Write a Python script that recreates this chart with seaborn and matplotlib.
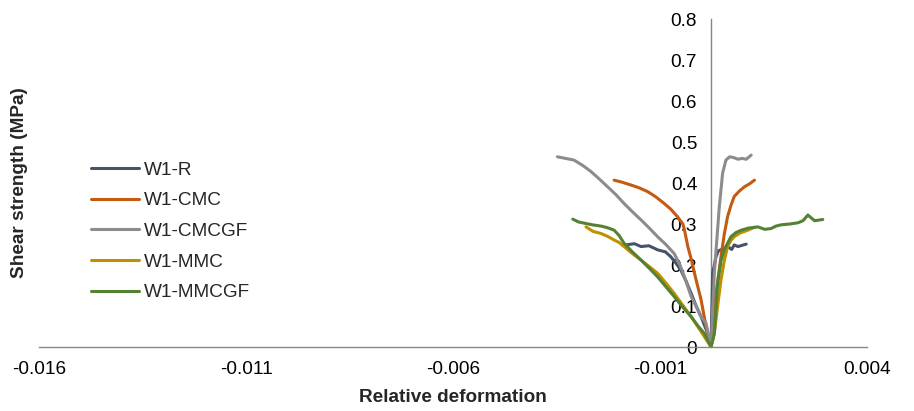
import numpy as np
import pandas as pd
import matplotlib
matplotlib.use("Agg")
import matplotlib.pyplot as plt
import seaborn as sns

# series (left branch -> origin -> right branch)
r_x = [-0.00206, -0.00185, -0.00169, -0.0015, -0.00129, -0.0011, -0.00097, -0.00085, -0.00073, -0.0006,
       -0.00048, -0.00036, -0.00024, -0.00008, 0, 0.00004, 0.00012, 0.00018, 0.00024, 0.0004, 0.0005,
       0.00056, 0.00065, 0.00075, 0.00085]
r_y = [0.249, 0.252, 0.245, 0.247, 0.237, 0.232, 0.22, 0.205, 0.188, 0.16,
       0.131, 0.10, 0.074, 0.033, 0, 0.18, 0.22, 0.235, 0.237, 0.245, 0.238,
       0.249, 0.245, 0.248, 0.251]

cmc_x = [-0.00234, -0.00215, -0.00193, -0.00173, -0.00153, -0.00133, -0.00113, -0.00097, -0.00081, -0.00068,
         -0.00064, -0.00056, -0.00048, -0.0004, -0.00024, -0.00012, 0, 0.00008, 0.00016, 0.00024, 0.00032,
         0.0004, 0.00048, 0.00056, 0.00068, 0.00081, 0.00093, 0.00105]
cmc_y = [0.407, 0.402, 0.395, 0.388, 0.379, 0.366, 0.35, 0.336, 0.318, 0.30,
         0.285, 0.245, 0.215, 0.18, 0.115, 0.05, 0, 0.098, 0.16, 0.22, 0.275,
         0.318, 0.345, 0.367, 0.38, 0.391, 0.398, 0.407]

cmcgf_x = [-0.00371, -0.00351, -0.00331, -0.0031, -0.0029, -0.0027, -0.0025, -0.0023, -0.0021, -0.0019,
           -0.00169, -0.00149, -0.00129, -0.00109, -0.00089, -0.00075, -0.00064, -0.00048, -0.00036, -0.00024,
           -0.00012, 0, 0.00008, 0.0002, 0.00028, 0.00036, 0.00045, 0.00055, 0.00065, 0.00075, 0.00085, 0.00097]
cmcgf_y = [0.464, 0.460, 0.456, 0.443, 0.428, 0.41, 0.391, 0.372, 0.35, 0.33,
           0.31, 0.29, 0.269, 0.25, 0.228, 0.20, 0.171, 0.123, 0.10, 0.074,
           0.058, 0, 0.18, 0.342, 0.424, 0.456, 0.464, 0.462, 0.458, 0.46, 0.458, 0.468]

mmc_x = [-0.00302, -0.00285, -0.00266, -0.0025, -0.00234, -0.00222, -0.0021, -0.0019, -0.00169, -0.00149,
         -0.00129, -0.00109, -0.00089, -0.00069, -0.00048, -0.00032, -0.00016, 0, 0.00008, 0.00016, 0.00024,
         0.00032, 0.0004, 0.00048, 0.00056, 0.0007, 0.00089, 0.00105]
mmc_y = [0.293, 0.282, 0.277, 0.27, 0.261, 0.255, 0.245, 0.228, 0.212, 0.196,
         0.18, 0.156, 0.131, 0.103, 0.074, 0.05, 0.025, 0, 0.033, 0.10, 0.163,
         0.21, 0.245, 0.26, 0.269, 0.278, 0.285, 0.292]

mmcgf_x = [-0.00334, -0.0032, -0.00306, -0.00286, -0.00266, -0.0025, -0.00234, -0.00222, -0.0021, -0.0019,
           -0.00169, -0.00149, -0.00129, -0.00109, -0.00089, -0.00069, -0.00048, -0.00032, -0.00016, 0,
           0.00008, 0.00016, 0.00024, 0.00032, 0.00048, 0.0006, 0.00073, 0.0009, 0.00113, 0.0013, 0.00145,
           0.00157, 0.00169, 0.0019, 0.0021, 0.00222, 0.00234, 0.0025, 0.0027]
mmcgf_y = [0.312, 0.305, 0.302, 0.298, 0.295, 0.291, 0.285, 0.272, 0.253, 0.232,
           0.212, 0.192, 0.171, 0.147, 0.123, 0.098, 0.074, 0.052, 0.033, 0,
           0.033, 0.155, 0.21, 0.237, 0.269, 0.279, 0.285, 0.29, 0.293, 0.287, 0.289,
           0.295, 0.298, 0.30, 0.303, 0.308, 0.322, 0.308, 0.311]

names = ["W1-R", "W1-CMC", "W1-CMCGF", "W1-MMC", "W1-MMCGF"]
colors = ["#44546A", "#C55A11", "#8C8C8C", "#BF9000", "#548235"]
xs = [r_x, cmc_x, cmcgf_x, mmc_x, mmcgf_x]
ys = [r_y, cmc_y, cmcgf_y, mmc_y, mmcgf_y]

rows = []
for n, xx, yy in zip(names, xs, ys):
    for i, (a, b) in enumerate(zip(xx, yy)):
        rows.append((n, i, a, b))
df = pd.DataFrame(rows, columns=["series", "idx", "x", "y"])

sns.set_style("white")
plt.rcParams["font.family"] = ["Liberation Sans", "DejaVu Sans"]
fs = 13.7

fig = plt.figure(figsize=(9.14, 4.11), dpi=100)
ax = fig.add_axes([0.0427, 0.1557, 0.906, 0.798])

sns.lineplot(data=df, x="x", y="y", hue="series", hue_order=names, palette=colors,
             sort=False, estimator=None, units="series", linewidth=2.2, ax=ax)

xmin = -0.01623
ax.set_xlim(xmin, xmin + 0.02)
ax.set_ylim(0, 0.8)
xt = np.array([xmin + 0.005 * k for k in range(5)])
ax.set_xticks(xt)
ax.set_xticklabels(["%.3f" % v for v in xt])
yt = [0, 0.1, 0.2, 0.3, 0.4, 0.5, 0.6, 0.7, 0.8]
ax.set_yticks(yt)
ax.set_yticklabels(["0" if v == 0 else "%.1f" % v for v in yt])

for s in ["top", "right"]:
    ax.spines[s].set_visible(False)
ax.spines["left"].set_position(("data", 0))
ax.spines["left"].set_color("#868686")
ax.spines["bottom"].set_color("#868686")
ax.spines["left"].set_linewidth(1.0)
ax.spines["bottom"].set_linewidth(1.0)
ax.spines["left"].set_zorder(0)
ax.tick_params(axis="both", length=0, labelsize=fs, colors="#000000")
ax.tick_params(axis="y", pad=10)
ax.tick_params(axis="x", pad=10)

ax.set_xlabel("Relative deformation", fontsize=fs, fontweight="bold", labelpad=8)
ax.set_ylabel("")
fig.text(0.021, 0.555, "Shear strength (MPa)", rotation=90, fontsize=fs,
         fontweight="bold", ha="center", va="center")

ax.legend(frameon=False, loc="upper left", bbox_to_anchor=(0.1, 0.607),
          bbox_transform=fig.transFigure, fontsize=fs, handlelength=2.5,
          handletextpad=0.26, labelspacing=0.7, borderpad=0, borderaxespad=0)

fig.savefig("out.png", dpi=100)
